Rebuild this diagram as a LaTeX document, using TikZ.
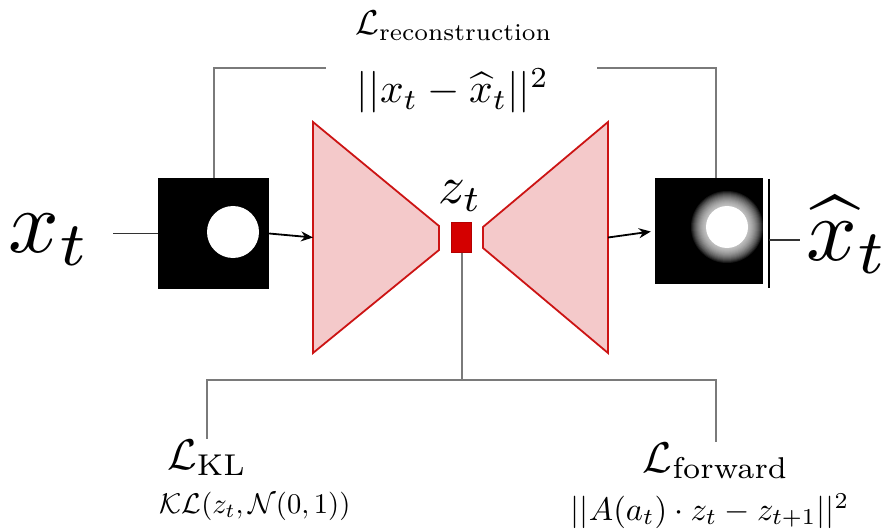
\documentclass[tikz,border=0pt]{standalone}
\usepackage{amsmath,amssymb}
\usetikzlibrary{arrows.meta,calc,positioning}
\definecolor{netpink}{HTML}{F4C9CA}
\definecolor{netred}{HTML}{CC1414}
\definecolor{codered}{HTML}{D40000}
\definecolor{wiregray}{HTML}{7A7A7A}

\begin{document}
\begin{tikzpicture}[
  x=1pt,y=-1pt,
  >={Stealth[length=12pt,width=10pt]},
  frame/.style={fill=black,minimum width=111pt,minimum height=111pt,inner sep=0pt},
  coder/.style={draw=netred,fill=netpink,line width=1.8pt,line join=miter},
  latent/.style={draw=codered!85!black,fill=codered,line width=.6pt,minimum width=20pt,minimum height=30pt,inner sep=0pt},
  big/.style={scale=8.9,anchor=base,inner sep=0pt},
  losstitle/.style={scale=4.3,anchor=base,inner sep=0pt},
  wire/.style={draw=wiregray,line width=2pt},
  feed/.style={draw=black!80,line width=1.6pt},
  flow/.style={draw=black,line width=1.8pt,->}
]
  \useasboundingbox (0,0) rectangle (893,529);

  % input and reconstruction
  \node[frame] (xin) at (213.5,233.5) {};
  \fill[white] (xin.center) ++(19.5,-1.5) circle (26);
  \node[frame,minimum width=108pt,minimum height=106pt] (xout) at (709,231) {};
  \foreach \r in {36,35,...,21}
    \fill[white,fill opacity=.09] (xout.center) ++(18,-4) circle (\r);
  \fill[white] (xout.center) ++(18,-4) circle (21);

  \node[big,inner xsep=2.3pt] (xt) at (50,252) {$x_t$};
  \node[big,inner xsep=.6pt] (xhat) at (848,260) {$\widehat{x}_t$};

  % encoder / decoder
  \draw[coder] (313,122) -- (439,226) -- (439,250) -- (313,353) -- cycle;
  \draw[coder] (608,122) -- (483,227) -- (483,248) -- (608,353) -- cycle;
  \coordinate (encin) at (313,237.5);
  \coordinate (decout) at (608,237.5);
  \node[latent] (latent) at (461.5,237.5) {};
  \node[scale=5.3,anchor=base,inner sep=0pt] (ztlabel) at (460,204) {$z_t$};

  % losses
  \node[scale=3.45,anchor=base,inner sep=0pt] (rectitle) at (454,35) {$\mathcal{L}_{\text{reconstruction}}$};
  \node[scale=4.15,anchor=base,inner sep=0pt] (recterm) at (453,103) {$||x_t - \widehat{x}_t||^2$};
  \node[losstitle] (kltitle) at (207,469) {$\mathcal{L}_{\text{KL}}$};
  \node[scale=2.85,anchor=base,inner sep=0pt] (klterm) at (255,513) {$\mathcal{KL}(z_t,\mathcal{N}(0,1))$};
  \node[losstitle] (fwtitle) at (716,472) {$\mathcal{L}_{\text{forward}}$};
  \node[scale=3.25,anchor=base,inner sep=0pt] (fwterm) at (710,520) {$||A(a_t)\cdot z_t - z_{t+1}||^2$};

  \coordinate (recl) at (326,68);
  \coordinate (recr) at (597,68);
  \coordinate (split) at (latent.south |- 0,380);
  \coordinate (barmid) at (769,240);

  % connectors
  \draw[feed] (xin.west) -- (xin.west -| xt.east);
  \draw[flow] (xin.east) -- (encin);
  \draw[flow,shorten >=4pt] (decout) -- (xout.west);
  \draw[black,line width=2.2pt] (769,179) -- (769,288);
  \draw[feed] (barmid) -- (barmid -| xhat.west);
  \draw[wire] (xin.north) |- (recl);
  \draw[wire] (recr) -| ([xshift=7pt]xout.north);
  \draw[wire] (latent.south) -- (split);
  \draw[wire] (kltitle.north) |- (split) -| (fwtitle.north);
\end{tikzpicture}
\end{document}
